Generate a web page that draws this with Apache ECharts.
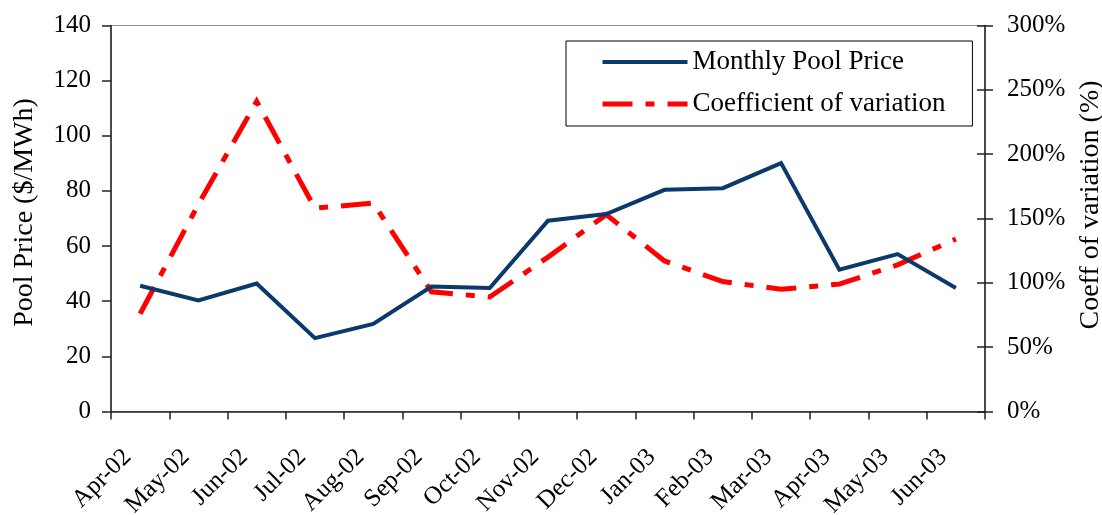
<!DOCTYPE html>
<html>
<head>
<meta charset="utf-8">
<title>Monthly Pool Price</title>
<script src="https://cdn.jsdelivr.net/npm/echarts@6/dist/echarts.min.js"></script>
<style>
    html, body { margin: 0; padding: 0; background: #fff; }
    #chart { width: 1102px; height: 515px; }
</style>
</head>
<body>
<div id="chart"></div>
<script>
// 类目与数据
const months = ['Apr-02', 'May-02', 'Jun-02', 'Jul-02', 'Aug-02', 'Sep-02', 'Oct-02', 'Nov-02',
    'Dec-02', 'Jan-03', 'Feb-03', 'Mar-03', 'Apr-03', 'May-03', 'Jun-03'];
const poolPrice = [45.6, 40.3, 46.4, 26.6, 31.8, 45.3, 44.8, 69.2, 71.6, 80.4, 81.0, 90.1, 51.4, 57.1, 44.8];
const coeffVariation = [76, 161, 241, 158, 162, 93, 89, 120, 153, 117, 101, 95, 99, 114, 134];
const priceTicks = [0, 20, 40, 60, 80, 100, 120, 140];
const coeffTicks = [0, 50, 100, 150, 200, 250, 300];

const chart = echarts.init(document.getElementById('chart'));
const font = '"Liberation Serif", "Times New Roman", serif';
const axisColor = '#222';
const blue = '#0a3a6b';
const red = '#ff0000';
const redDash = [30, 13, 9, 13];

const option = {
    animation: false,
    textStyle: { fontFamily: font, color: '#000' },
    grid: {
        left: 111,
        right: 117,
        top: 25.5,
        bottom: 103.5,
        outerBoundsMode: 'none',
        containLabel: false,
        show: true,
        borderColor: '#8c8c8c',
        borderWidth: 1
    },
    legend: {
        orient: 'vertical',
        left: 566,
        top: 41,
        padding: [6, 27, 7, 34],
        itemWidth: 85,
        itemHeight: 14,
        itemGap: 12,
        itemTextGap: 6,
        backgroundColor: '#fff',
        borderColor: '#000',
        borderWidth: 1,
        borderRadius: 0,
        itemStyle: { opacity: 0 },
        textStyle: { fontFamily: font, fontSize: 27, lineHeight: 30, color: '#000' },
        data: [
            { name: 'Monthly Pool Price', itemStyle: { opacity: 0 }, lineStyle: { color: blue, width: 4, type: 'solid' } },
            { name: 'Coefficient of variation', itemStyle: { opacity: 0 }, lineStyle: { color: red, width: 5, type: redDash } }
        ]
    },
    xAxis: {
        type: 'category',
        data: months,
        boundaryGap: true,
        axisLine: { lineStyle: { color: axisColor, width: 1.5 } },
        axisTick: { show: true, length: 8, lineStyle: { color: axisColor, width: 1.5 } },
        axisLabel: {
            rotate: 45,
            interval: 0,
            margin: 29,
            padding: [0, 18, 0, 0],
            fontSize: 25,
            fontFamily: font,
            color: '#000'
        },
        splitLine: { show: false }
    },
    yAxis: [
        {
            type: 'value',
            min: priceTicks[0],
            max: priceTicks[priceTicks.length - 1],
            interval: 20,
            position: 'left',
            name: 'Pool Price ($/MWh)',
            nameLocation: 'middle',
            nameGap: 72,
            nameTextStyle: { fontFamily: font, fontSize: 28, color: '#000', padding: [0, 0, 0, 12] },
            axisLine: { show: true, lineStyle: { color: axisColor, width: 1.5 } },
            axisTick: { show: true, length: 9, lineStyle: { color: axisColor, width: 1.5 } },
            axisLabel: { margin: 20, fontSize: 25, fontFamily: font, color: '#000' },
            splitLine: { show: false }
        },
        {
            type: 'value',
            min: coeffTicks[0],
            max: coeffTicks[coeffTicks.length - 1],
            interval: 50,
            position: 'right',
            name: 'Coeff of variation (%)',
            nameLocation: 'middle',
            nameGap: 82,
            nameTextStyle: { fontFamily: font, fontSize: 28, color: '#000', padding: [0, 0, 0, 27] },
            axisLine: { show: true, lineStyle: { color: axisColor, width: 1.5 } },
            axisTick: { show: true, length: 8, lineStyle: { color: axisColor, width: 1.5 } },
            axisLabel: {
                margin: 22,
                fontSize: 25,
                fontFamily: font,
                color: '#000',
                formatter: v => v + '%'
            },
            splitLine: { show: false }
        },
        {
            // 右轴刻度向内的一半
            type: 'value',
            min: coeffTicks[0],
            max: coeffTicks[coeffTicks.length - 1],
            interval: 50,
            position: 'right',
            axisLine: { show: false },
            axisTick: { show: true, inside: true, length: 8, lineStyle: { color: axisColor, width: 1.5 } },
            axisLabel: { show: false },
            splitLine: { show: false }
        }
    ],
    series: [
        {
            name: 'Monthly Pool Price',
            type: 'line',
            yAxisIndex: 0,
            data: poolPrice,
            symbol: 'none',
            lineStyle: { color: blue, width: 4, cap: 'butt', join: 'miter' },
            itemStyle: { color: blue },
            z: 3
        },
        {
            name: 'Coefficient of variation',
            type: 'line',
            yAxisIndex: 1,
            data: coeffVariation,
            symbol: 'none',
            lineStyle: { color: red, width: 5, type: redDash, cap: 'butt', join: 'miter' },
            itemStyle: { color: red },
            z: 2
        }
    ]
};

chart.setOption(option);
</script>
</body>
</html>
